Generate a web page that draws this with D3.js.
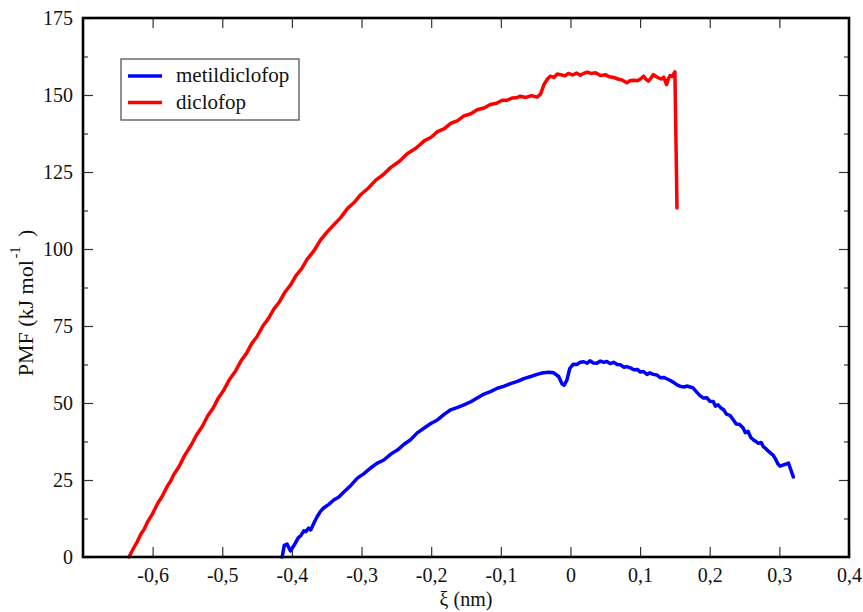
<!DOCTYPE html>
<html>
<head>
<meta charset="utf-8">
<script src="https://cdn.jsdelivr.net/npm/d3@7/dist/d3.min.js"></script>
<style>
  html, body { margin: 0; padding: 0; background: #fff; }
  svg { display: block; }
  svg text { font-family: "Liberation Serif", "Times New Roman", Times, Tinos, "Nimbus Roman", "DejaVu Serif", serif; fill: #111; }
</style>
</head>
<body>
<svg id="chart" width="863" height="612"></svg>
<script>
// PMF profiles along the reaction coordinate ξ (nm), in kJ/mol
const diclofopXi = [
  -0.634, -0.628, -0.622, -0.617, -0.612, -0.607, -0.600, -0.593, -0.586, -0.579,
  -0.574, -0.570, -0.562, -0.554, -0.545, -0.537, -0.529, -0.521, -0.513, -0.506,
  -0.498, -0.490, -0.481, -0.473, -0.465, -0.458, -0.450, -0.442, -0.434, -0.426,
  -0.418, -0.410, -0.402, -0.394, -0.386, -0.378, -0.369, -0.359, -0.350, -0.340,
  -0.330, -0.320, -0.311, -0.301, -0.290, -0.280, -0.269, -0.258, -0.246, -0.234,
  -0.222, -0.210, -0.200, -0.191, -0.181, -0.172, -0.162, -0.153, -0.143, -0.134,
  -0.124, -0.115, -0.106, -0.098, -0.091, -0.084, -0.078, -0.072, -0.064, -0.056,
  -0.048, -0.043, -0.038, -0.033, -0.029, -0.024, -0.019, -0.014, -0.008, -0.003,
  0.003, 0.009, 0.014, 0.019, 0.024, 0.030, 0.036, 0.043, 0.050, 0.056,
  0.062, 0.068, 0.074, 0.081, 0.086, 0.091, 0.096, 0.100, 0.105, 0.109,
  0.112, 0.116, 0.119, 0.123, 0.127, 0.131, 0.134, 0.138, 0.141, 0.143,
  0.146, 0.150, 0.153
];
const diclofopPmf = [
  0, 2.6, 5.0, 7.4, 9.1, 11.5, 14.1, 17.3, 19.8, 23.0,
  24.7, 26.6, 29.4, 33.0, 36.2, 39.6, 42.3, 45.8, 48.4, 51.5,
  54.1, 57.5, 60.4, 63.7, 66.2, 69.2, 71.6, 74.9, 77.3, 80.5,
  82.8, 86.0, 88.3, 91.4, 93.6, 96.7, 99.2, 102.9, 105.4, 107.8,
  110.2, 113.2, 115.0, 117.7, 119.8, 122.3, 124.1, 126.5, 128.4, 131.0,
  132.7, 135.1, 136.3, 138.1, 139.1, 140.8, 141.7, 143.2, 143.9, 145.2,
  145.8, 146.9, 147.3, 148.3, 148.3, 149.0, 149.1, 149.6, 149.2, 149.8,
  149.3, 150.3, 153.4, 155.2, 156.1, 155.7, 156.8, 156.6, 156.2, 157,
  156.5, 157.1, 156.4, 157, 157.4, 157, 157.2, 156.3, 156.6, 155.9,
  155.7, 155.2, 154.9, 154, 154.7, 154.8, 154.6, 155.1, 156.1, 155,
  154.5, 155.6, 156.6, 156, 155.5, 155.2, 155.8, 153.4, 155.5, 156.3,
  156, 157.5, 113.3
];

const metilXi = [
  -0.414, -0.411, -0.407, -0.402, -0.398, -0.395, -0.391, -0.387, -0.383, -0.380,
  -0.376, -0.373, -0.368, -0.364, -0.359, -0.354, -0.347, -0.340, -0.333, -0.325,
  -0.316, -0.306, -0.297, -0.287, -0.278, -0.268, -0.258, -0.248, -0.239, -0.230,
  -0.220, -0.210, -0.200, -0.191, -0.181, -0.172, -0.162, -0.153, -0.143, -0.134,
  -0.124, -0.115, -0.105, -0.096, -0.086, -0.076, -0.067, -0.057, -0.048, -0.039,
  -0.031, -0.024, -0.017, -0.012, -0.009, -0.005, -0.001, 0.004, 0.009, 0.014,
  0.019, 0.024, 0.028, 0.033, 0.038, 0.043, 0.048, 0.052, 0.057, 0.062,
  0.067, 0.072, 0.077, 0.081, 0.086, 0.091, 0.096, 0.100, 0.105, 0.110,
  0.114, 0.119, 0.124, 0.129, 0.134, 0.139, 0.144, 0.148, 0.153, 0.158,
  0.163, 0.168, 0.172, 0.176, 0.181, 0.186, 0.191, 0.196, 0.200, 0.205,
  0.208, 0.212, 0.216, 0.220, 0.224, 0.229, 0.234, 0.238, 0.243, 0.248,
  0.251, 0.255, 0.259, 0.263, 0.267, 0.270, 0.274, 0.277, 0.281, 0.285,
  0.288, 0.291, 0.295, 0.298, 0.301, 0.306, 0.310, 0.313, 0.317, 0.320
];
const metilPmf = [
  0, 3.8, 4.2, 2, 3.4, 4.5, 6.2, 7, 8.5, 8.2,
  9.4, 8.8, 11.2, 13, 14.8, 16, 17.1, 18.5, 19.4, 21.2,
  23.1, 25.6, 27, 28.9, 30.4, 31.5, 33.4, 34.8, 36.6, 38,
  40.3, 41.9, 43.4, 44.5, 46.4, 47.8, 48.6, 49.4, 50.4, 51.6,
  52.9, 53.7, 54.8, 55.4, 56.3, 57, 57.9, 58.6, 59.3, 59.8,
  60, 59.8, 58.6, 56.2, 55.8, 57.5, 61.2, 62.6, 62.5, 63.2,
  63.4, 62.9, 63.7, 63, 62.9, 63.6, 63.2, 63.5, 62.8, 63.2,
  62.5, 62.4, 61.6, 61.8, 61.4, 60.8, 60.9, 60.1, 60.2, 59.3,
  59.8, 59.3, 59.1, 58.2, 58.3, 57.8, 57.2, 56.7, 55.9, 55.4,
  55.2, 55.5, 55.2, 54.9, 53.6, 52.4, 51.6, 51.7, 50.6, 50.5,
  49, 49.4, 48.4, 47.8, 46.4, 46, 44.5, 43.2, 43, 41.9,
  40.4, 40.8, 38.8, 38, 37.4, 36.9, 37.2, 35.8, 35.1, 34.2,
  33.6, 33.1, 31.6, 30.2, 29.5, 29.9, 30.2, 30.5, 28, 26
];

const seriesNames = ["metildiclofop", "diclofop"];
const seriesColors = ["#0000ff", "#ff0000"];

const xTickValues = [-0.6, -0.5, -0.4, -0.3, -0.2, -0.1, 0, 0.1, 0.2, 0.3, 0.4];
const yTickValues = [0, 25, 50, 75, 100, 125, 150, 175];
const yMinorTickValues = [12.5, 37.5, 62.5, 87.5, 112.5, 137.5, 162.5];

const serif = '"Liberation Serif", "Times New Roman", Times, Tinos, "Nimbus Roman", "DejaVu Serif", serif';
const margin = { left: 83, right: 14, top: 18, bottom: 55 };
const width = 863, height = 612;

const svg = d3.select("#chart");

const x = d3.scaleLinear().domain([-0.7, 0.4]).range([margin.left, width - margin.right]);
const y = d3.scaleLinear().domain([0, 175]).range([height - margin.bottom, margin.top]);

// Comma decimal separator and a plain hyphen for the minus sign
const locale = d3.formatLocale({ decimal: ",", thousands: ".", grouping: [3], currency: ["", ""], minus: "-" });
const fmtX = locale.format(".1~f");
const fmtY = locale.format("d");

const plotL = x.range()[0], plotR = x.range()[1];
const plotT = y.range()[1], plotB = y.range()[0];

function styleAxis(g) {
  g.attr("font-family", serif);
  g.select(".domain").remove();
  g.selectAll(".tick line").attr("stroke", "#333").attr("stroke-width", 1.2);
  g.selectAll(".tick text").style("font-family", serif).style("font-size", "20px").attr("fill", "#111");
}

// Bottom axis: inward major ticks with labels
svg.append("g")
  .attr("transform", `translate(0,${plotB})`)
  .call(d3.axisBottom(x).tickValues(xTickValues).tickSize(-10).tickPadding(11).tickFormat(fmtX))
  .call(styleAxis);

// Top axis: ticks only
svg.append("g")
  .attr("transform", `translate(0,${plotT})`)
  .call(d3.axisTop(x).tickValues(xTickValues.filter(v => v < 0.4)).tickSize(-10).tickFormat(""))
  .call(styleAxis);

// Left axis: major + minor ticks
svg.append("g")
  .attr("transform", `translate(${plotL},0)`)
  .call(d3.axisLeft(y).tickValues(yTickValues).tickSize(-10).tickPadding(10).tickFormat(fmtY))
  .call(styleAxis);
svg.append("g")
  .attr("transform", `translate(${plotL},0)`)
  .call(d3.axisLeft(y).tickValues(yMinorTickValues).tickSize(-5).tickFormat(""))
  .call(styleAxis);

// Right axis: ticks only
svg.append("g")
  .attr("transform", `translate(${plotR},0)`)
  .call(d3.axisRight(y).tickValues(yTickValues.filter(v => v > 0 && v < 175)).tickSize(-10).tickFormat(""))
  .call(styleAxis);
svg.append("g")
  .attr("transform", `translate(${plotR},0)`)
  .call(d3.axisRight(y).tickValues(yMinorTickValues).tickSize(-5).tickFormat(""))
  .call(styleAxis);

// Curves
const line = d3.line().x(d => x(d[0])).y(d => y(d[1]));
const metilData = d3.zip(metilXi, metilPmf);
const diclofopData = d3.zip(diclofopXi, diclofopPmf);

svg.append("path").datum(diclofopData)
  .attr("d", line).attr("fill", "none")
  .attr("stroke", seriesColors[1]).attr("stroke-width", 3.5)
  .attr("stroke-linejoin", "round").attr("stroke-linecap", "round");

svg.append("path").datum(metilData)
  .attr("d", line).attr("fill", "none")
  .attr("stroke", seriesColors[0]).attr("stroke-width", 3.5)
  .attr("stroke-linejoin", "round").attr("stroke-linecap", "round");

// Plot frame
svg.append("rect")
  .attr("x", plotL).attr("y", plotT)
  .attr("width", plotR - plotL).attr("height", plotB - plotT)
  .attr("fill", "none").attr("stroke", "#000").attr("stroke-width", 2.6);

// Legend
const legend = svg.append("g").attr("transform", "translate(121,59)");
legend.append("rect")
  .attr("width", 178).attr("height", 61)
  .attr("fill", "#fff").attr("stroke", "#555").attr("stroke-width", 1.3);
seriesNames.forEach((name, i) => {
  const yy = 17 + i * 26.5;
  legend.append("line")
    .attr("x1", 7).attr("x2", 41).attr("y1", yy).attr("y2", yy)
    .attr("stroke", seriesColors[i]).attr("stroke-width", 3.5);
  legend.append("text")
    .attr("x", 55).attr("y", yy + 6)
    .style("font-family", serif)
    .style("font-size", "21px")
    .text(name);
});

// Axis titles
svg.append("text")
  .attr("x", (plotL + plotR) / 2).attr("y", 606)
  .attr("text-anchor", "middle")
  .style("font-family", serif)
  .style("font-size", "20px")
  .text("ξ (nm)");

const yTitle = svg.append("text")
  .attr("transform", "translate(33,303) rotate(-90)")
  .attr("text-anchor", "middle")
  .style("font-family", serif)
  .style("font-size", "22px");
yTitle.append("tspan").text("PMF (kJ mol");
yTitle.append("tspan").attr("dx", 2).attr("dy", -13).style("font-size", "14px").text("-1");
yTitle.append("tspan").attr("dx", 4).attr("dy", 13).text(" )");
</script>
</body>
</html>
